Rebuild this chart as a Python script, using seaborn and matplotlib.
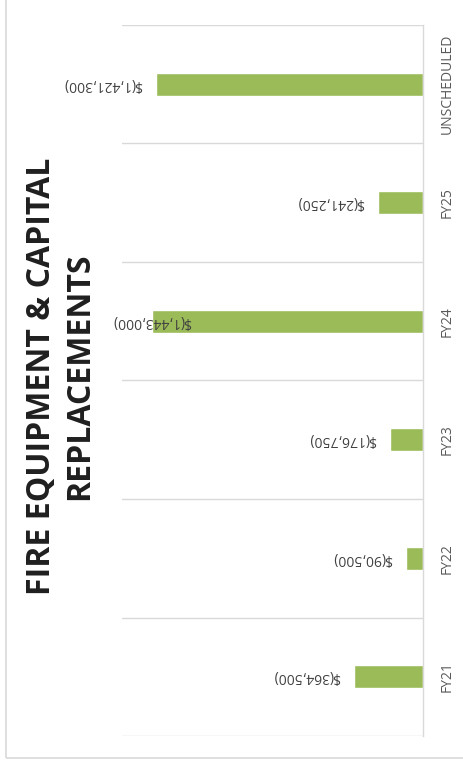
import matplotlib
matplotlib.use("Agg")
import matplotlib.pyplot as plt
from matplotlib.patches import Rectangle
import numpy as np
import pandas as pd
import seaborn as sns

categories = ["FY21", "FY22", "FY23", "FY24", "FY25", "UNSCHEDULED"]
costs = [-364500, -90500, -176750, -1443000, -241250, -1421300]

sns.set_style("white")
plt.rcParams["font.family"] = ["Open Sans", "DejaVu Sans"]

df = pd.DataFrame({"category": categories, "cost": costs})

fig = plt.figure(figsize=(4.64, 7.72), dpi=100)
ax = fig.add_axes([122 / 464, 1 - 736 / 772, (423 - 122) / 464, (736 - 25) / 772])

sns.barplot(data=df, x="cost", y="category", order=categories[::-1],
            color="#9BBB59", saturation=1, width=0.19, orient="h", ax=ax)

ax.set_xlim(-1600000, 0)
ax.set_ylim(len(categories) - 0.5, -0.5)
ax.set_xlabel("")
ax.set_ylabel("")
ax.set_xticks([])

# gridlines between categories
ax.set_yticks(np.arange(-0.5, len(categories), 1), minor=True)
ax.grid(True, which="minor", axis="y", color="#D9D9D9", linewidth=1)
ax.tick_params(which="minor", length=0)
ax.set_axisbelow(True)

for s in ["left", "top", "bottom"]:
    ax.spines[s].set_visible(False)
ax.spines["right"].set_color("#D9D9D9")
ax.spines["right"].set_linewidth(1)

ax.yaxis.tick_right()
ax.tick_params(axis="y", which="major", length=0, pad=12, labelsize=10,
               labelcolor="#595959")
for lab in ax.get_yticklabels():
    lab.set_rotation(90)
    lab.set_va("center")

# value labels, rotated like the original
biggest = min(costs)
for i, cat in enumerate(categories[::-1]):
    v = costs[categories.index(cat)]
    txt = "$({:,})".format(abs(v))
    if v == biggest:
        ax.annotate(txt, (v, i), xytext=(0, 0), textcoords="offset points",
                    ha="center", va="center", rotation=180, fontsize=10,
                    color="#404040", annotation_clip=False)
    else:
        ax.annotate(txt, (v, i), xytext=(-10, 0), textcoords="offset points",
                    ha="right", va="center", rotation=180, fontsize=10,
                    color="#404040", annotation_clip=False)

fig.text(61 / 464, 1 - 376 / 772, "FIRE EQUIPMENT & CAPITAL\nREPLACEMENTS",
         rotation=90, ha="center", va="center", multialignment="center",
         fontsize=23, fontweight="bold", color="#1F1F1F", linespacing=1.2)

# chart area border
fig.patches.append(Rectangle((6 / 464, 1 - 758 / 772), 1, 758 / 772 + 0.01,
                             transform=fig.transFigure, fill=False,
                             edgecolor="#D9D9D9", linewidth=1.2))

fig.savefig("out.png", dpi=100)
